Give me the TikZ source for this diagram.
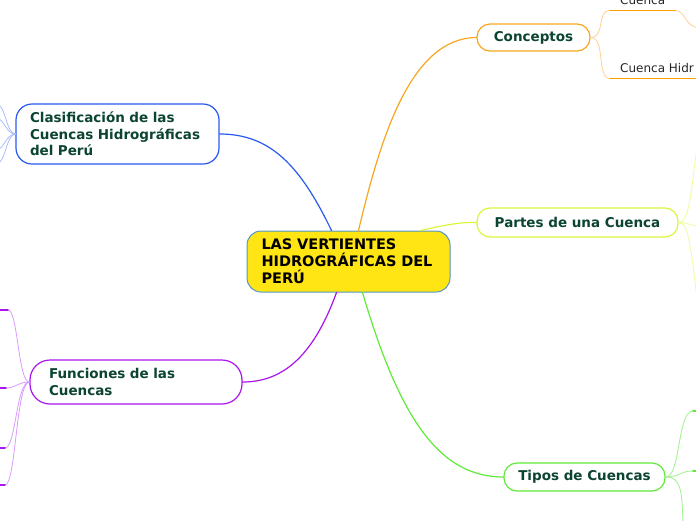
\documentclass[tikz,border=0pt]{standalone}
\usepackage{fontspec}
\setmainfont{DejaVu Sans}
\definecolor{textgreen}{RGB}{12,68,50}
\definecolor{rootyellow}{RGB}{255,229,20}
\definecolor{rootblue}{RGB}{80,150,200}
\definecolor{naranja}{RGB}{247,166,32}
\definecolor{naranjaclaro}{RGB}{255,208,145}
\definecolor{naranjabarra}{RGB}{255,160,0}
\definecolor{azul}{RGB}{40,90,240}
\definecolor{azulclaro}{RGB}{170,190,255}
\definecolor{lima}{RGB}{220,245,60}
\definecolor{limaclaro}{RGB}{236,250,160}
\definecolor{verde}{RGB}{95,235,55}
\definecolor{verdeclaro}{RGB}{160,242,140}
\definecolor{morado}{RGB}{170,20,238}
\definecolor{moradoclaro}{RGB}{215,155,255}
\begin{document}
\begin{tikzpicture}[x=1pt, y=-1pt, line cap=round,
	topic/.style={draw, fill=white, rounded corners=13pt, line width=1.2pt, inner sep=0pt, text=textgreen, font=\bfseries\fontsize{13.5}{16.5}\selectfont},
	leaf/.style={inner xsep=10pt, inner ysep=6pt, text=black!85, font=\fontsize{12}{14}\selectfont},
	link/.style={line width=1.2pt},
	twig/.style={line width=0.8pt},
	bar/.style={line width=1.8pt}]
	\useasboundingbox (0,0) rectangle (696,520);
	\clip (0,0) rectangle (696,520);
	
	% ------------------ nodo central ------------------
	\node[topic, fill=rootyellow, draw=rootblue, line width=1pt, text=black, rounded corners=14pt, minimum width=203pt, minimum height=61pt, text width=174pt, align=left, font=\bfseries\fontsize{14.5}{17}\selectfont] (root) at (348.5,261.5) {LAS VERTIENTES\\HIDROGRÁFICAS DEL\\PERÚ};
	
	% ------------------ temas principales ------------------
	\node[topic, draw=naranja, minimum width=113pt, minimum height=27pt] (conceptos) at (533.5,37.5) {Conceptos};
	\node[topic, draw=lima, minimum width=201pt, minimum height=29pt] (partes) at (577.5,222.5) {Partes de una Cuenca};
	\node[topic, draw=verde, minimum width=161pt, minimum height=28pt] (tipos) at (584.5,477) {Tipos de Cuencas};
	\node[topic, draw=azul, rounded corners=16pt, minimum width=203pt, minimum height=60pt, text width=175pt, align=left] (clasif) at (117.5,134) {Clasificación de las\\Cuencas Hidrográficas\\del Perú};
	\node[topic, draw=morado, rounded corners=20pt, minimum width=212pt, minimum height=44pt, text width=174pt, align=left] (funciones) at (136,382) {Funciones de las\\Cuencas};
	
	% ramas del centro
	\draw[link, naranja] ([xshift=10pt]root.north) .. controls (380,140) and (410,38) .. (conceptos.west);
	\draw[link, lima] ([xshift=72pt]root.north) .. controls (445,225) and (460,222) .. (partes.west);
	\draw[link, verde] ([xshift=14pt]root.south) .. controls (400,420) and (440,477) .. (tipos.west);
	\draw[link, azul] ([xshift=-17pt]root.north) .. controls (300,165) and (270,134) .. (clasif.east);
	\draw[link, morado] ([xshift=-12pt]root.south) .. controls (312,360) and (280,382) .. (funciones.east);
	
	% ------------------ Conceptos ------------------
	\node[leaf, anchor=south west] (cuenca) at (610,10.5) {Cuenca};
	\node[leaf, anchor=south west] (hidr) at (610,78.5) {Cuenca Hidr};
	\coordinate (cuencaFin) at (700,28);
	\draw[twig, naranjaclaro] (conceptos.east) .. controls (606,37) and (596,10.5) .. (cuenca.south west);
	\draw[twig, naranjaclaro] (conceptos.east) .. controls (606,37) and (596,78.5) .. (hidr.south west);
	\draw[twig, naranjaclaro] (cuenca.south east) .. controls (686,10.5) and (684,27) .. (cuencaFin);
	\draw[bar, naranjabarra] (cuenca.south west) -- (cuenca.south east);
	\draw[bar, naranjabarra] (hidr.south west) -- (hidr.south east);
	
	% ------------------ Partes de una Cuenca ------------------
	\coordinate (p1) at (698,140);
	\coordinate (p2) at (700,226);
	\coordinate (p3) at (698,305);
	\draw[twig, limaclaro] (partes.east) .. controls (690,222) and (691,190) .. (p1);
	\draw[twig, limaclaro] (partes.east) .. controls (688,222) and (690,226) .. (p2);
	\draw[twig, limaclaro] (partes.east) .. controls (690,222) and (691,255) .. (p3);
	
	% ------------------ Tipos de Cuencas ------------------
	\coordinate (t1) at (693,411);
	\coordinate (t2) at (693,471);
	\coordinate (t3) at (683,525);
	\draw[twig, verdeclaro] (tipos.east) .. controls (681,477) and (677,411) .. (t1);
	\draw[twig, verdeclaro] (tipos.east) .. controls (680,477) and (680,471) .. (t2);
	\draw[twig, verdeclaro] (tipos.east) .. controls (681,477) and (682,490) .. (t3);
	\draw[bar, verde] (t1) -- ++(10,0);
	\draw[bar, verde] (t2) -- ++(10,0);
	
	% ------------------ Clasificación ------------------
	\coordinate (c1) at (-4,104);
	\coordinate (c2) at (-4,118);
	\coordinate (c3) at (-4,150);
	\coordinate (c4) at (-4,164);
	\draw[twig, azulclaro] (clasif.west) .. controls (6,134) and (6,104) .. (c1);
	\draw[twig, azulclaro] (clasif.west) .. controls (6,134) and (4,118) .. (c2);
	\draw[twig, azulclaro] (clasif.west) .. controls (6,134) and (4,150) .. (c3);
	\draw[twig, azulclaro] (clasif.west) .. controls (6,134) and (6,164) .. (c4);
	
	% ------------------ Funciones ------------------
	\coordinate (f1) at (8,310);
	\coordinate (f2) at (6,388);
	\coordinate (f3) at (5,448);
	\coordinate (f4) at (5,485);
	\draw[twig, moradoclaro] (funciones.west) .. controls (18,382) and (18,310) .. (f1);
	\draw[twig, moradoclaro] (funciones.west) .. controls (18,382) and (16,388) .. (f2);
	\draw[twig, moradoclaro] (funciones.west) .. controls (16,382) and (16,448) .. (f3);
	\draw[twig, moradoclaro] (funciones.west) .. controls (16,382) and (16,485) .. (f4);
	\draw[bar, morado] (f1) -- ++(-10,0);
	\draw[bar, morado] (f2) -- ++(-10,0);
	\draw[bar, morado] (f3) -- ++(-10,0);
	\draw[bar, morado] (f4) -- ++(-10,0);
\end{tikzpicture}
\end{document}
